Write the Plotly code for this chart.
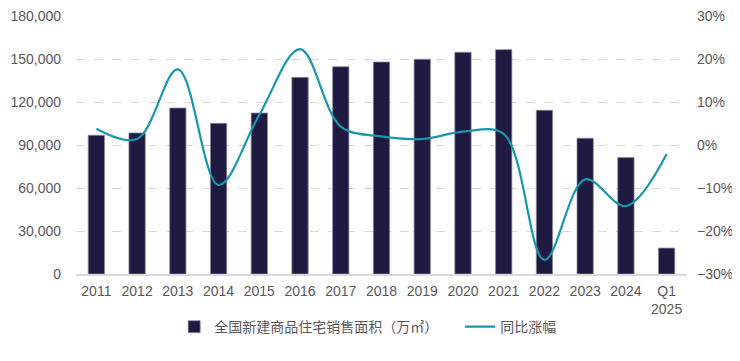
import plotly.graph_objects as go

categories = ["2011", "2012", "2013", "2014", "2015", "2016", "2017", "2018",
              "2019", "2020", "2021", "2022", "2023", "2024", "Q1<br>2025"]
area = [96800, 98400, 115800, 105100, 112300, 137200, 144600, 147900,
        149800, 154700, 156500, 114200, 94700, 81200, 18100]
yoy = [3.8, 1.4, 17.6, -9.3, 7.0, 22.3, 4.3, 2.0,
       1.4, 3.1, 2.6, -26.7, -8.0, -14.2, -2.1]

bar_name = "全国新建商品住宅销售面积（万㎡）"
line_name = "同比涨幅"

fig = go.Figure()
fig.add_trace(go.Bar(
    x=categories, y=area, name=bar_name,
    marker=dict(color="#1f1a40", line=dict(color="#8a87a0", width=0.8)),
    yaxis="y",
))
fig.add_trace(go.Scatter(
    x=categories, y=yoy, name=line_name, mode="lines",
    line=dict(color="#1797ae", width=2.2, shape="spline", smoothing=1.0),
    yaxis="y2",
))

font_fam = "Liberation Sans, Arial, Noto Sans CJK SC, sans-serif"
fig.update_layout(
    width=732, height=353,
    margin=dict(l=68, r=53, t=8, b=87, autoexpand=False),
    plot_bgcolor="white", paper_bgcolor="white",
    bargap=0.6,
    font=dict(family=font_fam, size=14, color="#595959"),
    xaxis=dict(
        showgrid=False, showline=True, linecolor="#d9d9d9", linewidth=1.5,
        ticks="", tickfont=dict(size=14, color="#595959"), automargin=False,
        ticklabelstandoff=3, ticklabeloverflow="allow",
    ),
    yaxis=dict(
        range=[0, 180000], dtick=30000, tickformat=",",
        showgrid=True, gridcolor="#d9d9d9", griddash="dash", gridwidth=1,
        zeroline=False, showline=False, ticks="", automargin=False,
        ticklabelstandoff=14, tickfont=dict(size=14), ticklabeloverflow="allow",
    ),
    yaxis2=dict(
        range=[-30, 30], dtick=10, ticksuffix="%",
        overlaying="y", side="right", showgrid=False, zeroline=False,
        showline=False, ticks="", automargin=False, ticklabelstandoff=9,
        tickfont=dict(size=14), ticklabeloverflow="allow",
    ),
    legend=dict(
        orientation="h", xref="container", yref="container",
        x=0.227, xanchor="left", y=0.096, yanchor="middle",
        bgcolor="rgba(0,0,0,0)",
        font=dict(family="Noto Sans CJK SC, sans-serif", size=14, color="#595959"),
        entrywidth=241, entrywidthmode="pixels",
    ),
    showlegend=True,
)

fig.write_html("out.html")
